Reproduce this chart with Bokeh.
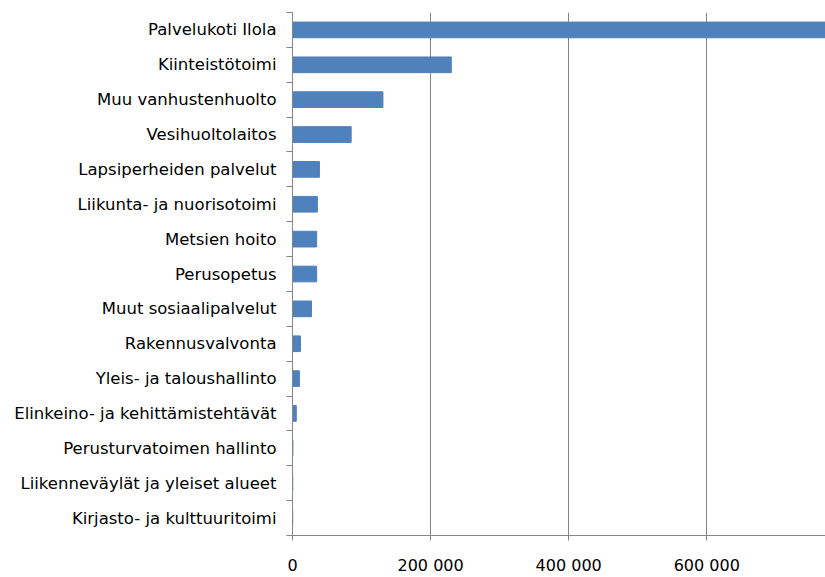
from bokeh.plotting import figure
from bokeh.models import Range1d, FixedTicker
from bokeh.embed import file_html
from bokeh.resources import INLINE

categories = [
    "Palvelukoti Ilola",
    "Kiinteistötoimi",
    "Muu vanhustenhuolto",
    "Vesihuoltolaitos",
    "Lapsiperheiden palvelut",
    "Liikunta- ja nuorisotoimi",
    "Metsien hoito",
    "Perusopetus",
    "Muut sosiaalipalvelut",
    "Rakennusvalvonta",
    "Yleis- ja taloushallinto",
    "Elinkeino- ja kehittämistehtävät",
    "Perusturvatoimen hallinto",
    "Liikenneväylät ja yleiset alueet",
    "Kirjasto- ja kulttuuritoimi",
]
values = [790000, 230000, 131000, 85000, 39000, 36000, 35000, 35000, 27500, 11500, 10000, 5500, 600, 400, 300]
x_ticks = [0, 200000, 400000, 600000]
x_tick_labels = ["0", "200 000", "400 000", "600 000"]

n = len(categories)
ypos = [n - 1 - i for i in range(n)]

p = figure(width=825, height=577, output_backend="svg", toolbar_location=None,
           x_range=Range1d(0, 772000), y_range=Range1d(-0.5, n - 0.5),
           min_border_left=292, min_border_right=0, min_border_top=12, min_border_bottom=40)
p.outline_line_color = None
p.background_fill_color = "white"
p.border_fill_color = "white"

p.hbar(y=ypos, right=values, left=0, height=0.45, color="#4F81BD")

grey = "#868686"
font = "DejaVu Sans"

# y axis
p.yaxis.ticker = FixedTicker(ticks=ypos, minor_ticks=[k - 0.5 for k in range(n + 1)])
p.yaxis.major_label_overrides = {y: c for y, c in zip(ypos, categories)}
p.yaxis.major_tick_line_color = None
p.yaxis.major_tick_out = 0
p.yaxis.major_tick_in = 0
p.yaxis.minor_tick_line_color = grey
p.yaxis.minor_tick_out = 6
p.yaxis.minor_tick_in = 0
p.yaxis.axis_line_color = grey
p.yaxis.major_label_standoff = 10
p.yaxis.major_label_text_font = font
p.yaxis.major_label_text_font_size = "16.5px"
p.yaxis.major_label_text_color = "#000000"
p.ygrid.grid_line_color = None

# x axis
p.xaxis.ticker = FixedTicker(ticks=x_ticks)
p.xaxis.major_label_overrides = {t: l for t, l in zip(x_ticks, x_tick_labels)}
p.xaxis.major_tick_line_color = grey
p.xaxis.major_tick_out = 5
p.xaxis.major_tick_in = 0
p.xaxis.minor_tick_line_color = None
p.xaxis.axis_line_color = grey
p.xaxis.major_label_standoff = 15
p.xaxis.major_label_text_font = font
p.xaxis.major_label_text_font_size = "16px"
p.xaxis.major_label_text_color = "#000000"
p.xgrid.grid_line_color = grey
p.xgrid.ticker = FixedTicker(ticks=x_ticks[1:])

open("out.html", "w").write(file_html(p, INLINE))
